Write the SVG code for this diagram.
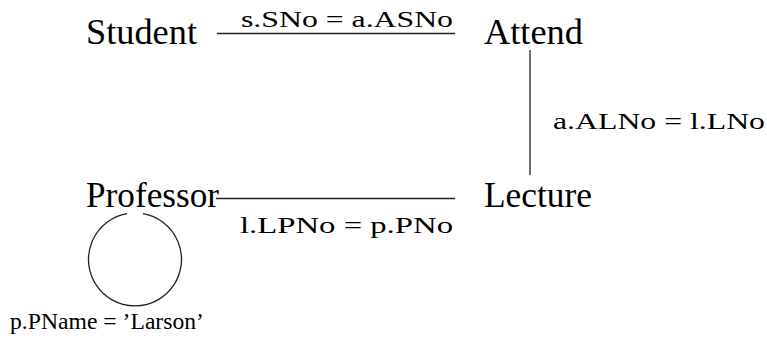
<svg xmlns="http://www.w3.org/2000/svg" width="767" height="341" viewBox="0 0 767 341">
<style>
.node{font-family:'Liberation Serif','DejaVu Serif',serif;font-size:35px;fill:#000}
.lbl{font-family:'Liberation Serif','DejaVu Serif',serif;font-size:23px;fill:#000}
.edge{stroke:#222;stroke-width:1.3;fill:none}
</style>
<rect width="767" height="341" fill="#fff"/>
<g id="connectors">
<line class="edge" x1="217" y1="33.5" x2="455" y2="33.5"/>
<text class="lbl" x="241" y="27" textLength="212" lengthAdjust="spacingAndGlyphs">s.SNo = a.ASNo</text>
<line class="edge" x1="530" y1="50" x2="530" y2="175"/>
<text class="lbl" x="553" y="129" textLength="212" lengthAdjust="spacingAndGlyphs">a.ALNo = l.LNo</text>
<line class="edge" x1="216" y1="198.5" x2="455" y2="198.5"/>
<text class="lbl" x="240" y="233" textLength="213" lengthAdjust="spacingAndGlyphs">l.LPNo = p.PNo</text>
<path class="edge" d="M127,213.6 A46.5,46.5 0 1 0 143,213.6"/>
<text class="lbl" x="10" y="329" textLength="194" lengthAdjust="spacingAndGlyphs">p.PName = ’Larson’</text>
</g>
<g id="student"><text class="node" x="86" y="44" textLength="111" lengthAdjust="spacingAndGlyphs">Student</text></g>
<g id="attend"><text class="node" x="484" y="44" textLength="99" lengthAdjust="spacingAndGlyphs">Attend</text></g>
<g id="lecture"><text class="node" x="484" y="207" textLength="108" lengthAdjust="spacingAndGlyphs">Lecture</text></g>
<g id="professor"><text class="node" x="86" y="207" textLength="133" lengthAdjust="spacingAndGlyphs">Professor</text></g>
</svg>
